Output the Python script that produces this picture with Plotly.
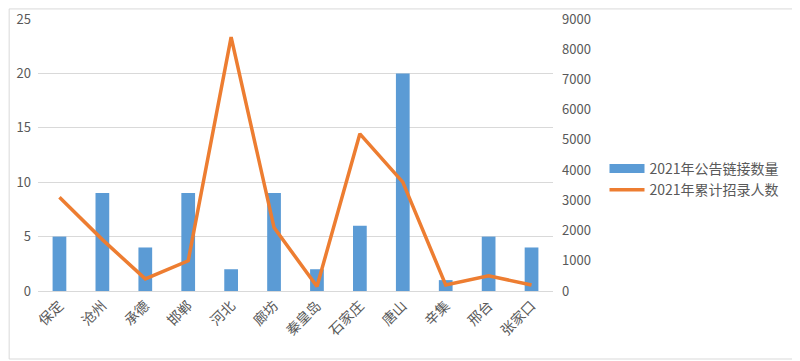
import plotly.graph_objects as go

categories = ["保定", "沧州", "承德", "邯郸", "河北", "廊坊", "秦皇岛", "石家庄", "唐山", "辛集", "邢台", "张家口"]
links_2021 = [5, 9, 4, 9, 2, 9, 2, 6, 20, 1, 5, 4]
recruits_2021 = [3100, 1700, 400, 1000, 8400, 2100, 150, 5200, 3600, 200, 500, 200]
left_ticks = [0, 5, 10, 15, 20, 25]
right_ticks = [0, 1000, 2000, 3000, 4000, 5000, 6000, 7000, 8000, 9000]

FONT = "Noto Sans CJK SC, Microsoft YaHei, sans-serif"
GRID = "#D9D9D9"
TXT = "#595959"
BLUE = "#5B9BD5"
ORANGE = "#ED7D31"

fig = go.Figure()
fig.add_trace(go.Bar(x=categories, y=links_2021, name="2021年公告链接数量",
                     marker=dict(color=BLUE, line=dict(width=0)), yaxis="y",
                     showlegend=False))
# legend-only entry drawn as a wide block, like the reference's legend key
fig.add_trace(go.Scatter(x=[None], y=[None], name="2021年公告链接数量", mode="lines",
                         line=dict(color=BLUE, width=9), yaxis="y", showlegend=True))
fig.add_trace(go.Scatter(x=categories, y=recruits_2021, name="2021年累计招录人数",
                         mode="lines", line=dict(color=ORANGE, width=3.5), yaxis="y2"))

# page has an 8px body margin, so the figure is offset by 8px
fig.update_layout(
    width=800, height=361,
    margin=dict(l=30, r=255, t=11, b=78, autoexpand=False),
    paper_bgcolor="white", plot_bgcolor="white",
    font=dict(family=FONT, color=TXT, size=12),
    bargap=0.68,
    showlegend=True,
    legend=dict(x=1.10, y=0.41, xanchor="left", yanchor="middle",
                font=dict(size=14, color=TXT), bgcolor="rgba(0,0,0,0)",
                itemwidth=35, tracegroupgap=2),
    xaxis=dict(type="category", tickangle=-45, showgrid=False, showline=True,
               linecolor=GRID, linewidth=1, ticks="", automargin=False,
               tickfont=dict(size=14, color=TXT)),
    yaxis=dict(range=[0, 25], tickvals=left_ticks, showgrid=True, gridcolor=GRID,
               zeroline=False, showline=False, ticks="", automargin=False,
               ticklabelstandoff=6, tickfont=dict(size=13, color=TXT)),
    yaxis2=dict(range=[0, 9000], tickvals=right_ticks, overlaying="y", side="right",
                showgrid=False, zeroline=False, showline=False, ticks="", automargin=False,
                ticklabelstandoff=8, tickfont=dict(size=13, color=TXT)),
    shapes=[dict(type="rect", xref="paper", yref="paper",
                 x0=-0.056, x1=1.474, y0=-0.25, y1=1.037,
                 line=dict(color=GRID, width=1), fillcolor="rgba(0,0,0,0)")],
)

fig.write_html("out.html")
